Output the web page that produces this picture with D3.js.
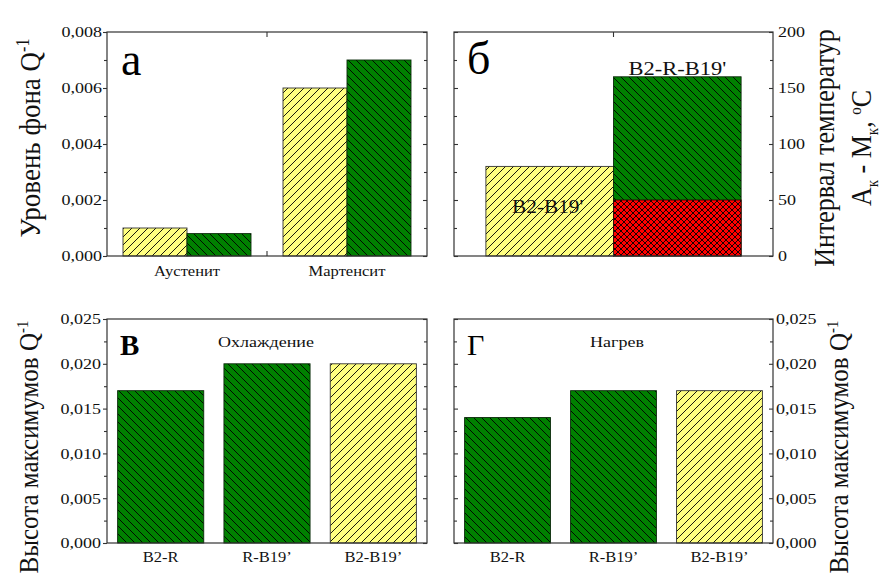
<!DOCTYPE html>
<html>
<head>
<meta charset="utf-8">
<script src="https://cdn.jsdelivr.net/npm/d3@7"></script>
</head>
<body style="margin:0;background:#fff">
<div id="chart"></div>
<script>
// panel а - background level
var phaseCats = ["Аустенит", "Мартенсит"];
var bgYellow = [0.001, 0.006];
var bgGreen = [0.0008, 0.007];
var bgTicks = [0, 0.002, 0.004, 0.006, 0.008];
var bgMinor = [0.001, 0.003, 0.005, 0.007];

// panel б - temperature interval
var rangeCats = ["B2-B19'", "B2-R-B19'"];
var rangeTotal = [80, 160];
var rangeLow = [0, 50];
var rangeTicks = [0, 50, 100, 150, 200];
var rangeMinor = [25, 75, 125, 175];

// panels в, г - peak heights
var peakCats = ["B2-R", "R-B19’", "B2-B19’"];
var peakKind = ["g", "g", "y"];
var coolPeaks = [0.017, 0.020, 0.020];
var heatPeaks = [0.014, 0.017, 0.017];
var peakTicks = [0, 0.005, 0.010, 0.015, 0.020, 0.025];
var peakMinor = [0.0025, 0.0075, 0.0125, 0.0175, 0.0225];

var width = 881, height = 582;
var K = 1.2; // picture is a bit wider than the fonts
var SERIF = "'Liberation Serif'";
var toStretch = [];

var svg = d3.select("#chart").append("svg")
    .attr("width", width)
    .attr("height", height)
    .style("font-family", SERIF);

var defs = svg.append("defs");
function hatch(id, fill, size, d) {
  var p = defs.append("pattern")
      .attr("id", id)
      .attr("patternUnits", "userSpaceOnUse")
      .attr("width", size)
      .attr("height", size);
  p.append("rect").attr("width", size).attr("height", size).attr("fill", fill);
  p.append("path").attr("d", d).attr("stroke", "#000").attr("stroke-width", 0.9);
}
hatch("hy", "#ffff80", 8, "M-2,2L2,-2M0,8L8,0M6,10L10,6");
hatch("hg", "#008000", 8, "M-2,6L2,10M0,0L8,8M6,-2L10,2");
hatch("hr", "#ff0000", 6, "M0,0L6,6M-1,5L1,7M5,-1L7,1M0,6L6,0M-1,1L1,-1M5,7L7,5");
var fills = { y: "url(#hy)", g: "url(#hg)", r: "url(#hr)" };
var strokes = { y: "#333", g: "#0a2a0a", r: "#300" };

var comma = function(f) { return function(d) { return f(d).replace(".", ","); }; };
var fmt3 = comma(d3.format(".3f"));

// widen later, once the font is in
function stretch(sel, k) {
  sel.each(function() { toStretch.push([this, k]); });
}
function applyStretch() {
  toStretch.forEach(function(p) {
    var w = p[0].getComputedTextLength();
    d3.select(p[0]).attr("textLength", w * p[1]).attr("lengthAdjust", "spacingAndGlyphs");
  });
}

function frame(x0, x1, y0, y1) {
  svg.append("rect")
      .attr("x", x0).attr("y", y0)
      .attr("width", x1 - x0).attr("height", y1 - y0)
      .attr("fill", "none")
      .attr("stroke", "#333")
      .attr("stroke-width", 1.2);
}

function styleAxis(g) {
  g.style("font-family", SERIF);
  g.select(".domain").remove();
  g.selectAll(".tick line").attr("stroke", "#333").attr("stroke-width", 1.1);
  g.selectAll(".tick text").attr("fill", "#111").attr("font-size", 15)
      .style("font-family", SERIF);
}

// y axes: labelled side + mirrored side
function yAxes(y, x0, x1, major, minor, side, outward, format, pad) {
  var lx = side === "left" ? x0 : x1, mx = side === "left" ? x1 : x0;
  var mk = side === "left" ? d3.axisLeft : d3.axisRight;
  var mm = side === "left" ? d3.axisRight : d3.axisLeft;
  var s = outward ? 1 : -1;
  var g = svg.append("g").attr("transform", "translate(" + lx + ",0)")
      .call(mk(y).tickValues(major).tickSize(4 * s).tickPadding(pad).tickFormat(format))
      .call(styleAxis);
  stretch(g.selectAll(".tick text"), K);
  svg.append("g").attr("transform", "translate(" + lx + ",0)")
      .call(mk(y).tickValues(minor).tickSize(3 * s).tickFormat(""))
      .call(styleAxis);
  svg.append("g").attr("transform", "translate(" + mx + ",0)")
      .call(mm(y).tickValues(major).tickSize(-4).tickFormat(""))
      .call(styleAxis);
  svg.append("g").attr("transform", "translate(" + mx + ",0)")
      .call(mm(y).tickValues(minor).tickSize(-3).tickFormat(""))
      .call(styleAxis);
}

function xLabels(x, y0, pad) {
  var g = svg.append("g").attr("transform", "translate(0," + y0 + ")")
      .call(d3.axisBottom(x).tickSize(0).tickPadding(pad))
      .call(styleAxis);
  g.selectAll(".tick text").attr("font-size", 14);
  stretch(g.selectAll(".tick text"), 1.18);
}

function midTick(x, y0, y1) {
  svg.append("line").attr("x1", x).attr("x2", x).attr("y1", y1).attr("y2", y1 - 5)
      .attr("stroke", "#333").attr("stroke-width", 1.1);
  svg.append("line").attr("x1", x).attr("x2", x).attr("y1", y0).attr("y2", y0 + 5)
      .attr("stroke", "#333").attr("stroke-width", 1.1);
}

function title(x, y, t, size, weight) {
  svg.append("text").attr("x", x).attr("y", y)
      .attr("font-size", size).attr("font-weight", weight || "normal")
      .style("font-family", SERIF)
      .text(t);
}

function note(x, y, t, size, k) {
  var n = svg.append("text").attr("x", x).attr("y", y)
      .attr("text-anchor", "middle").attr("font-size", size).attr("fill", "#111")
      .style("font-family", SERIF)
      .text(t);
  stretch(n, k);
}

// rotated label, parts: [text, shift(px, + is up), size]
function vlabel(x, cy, parts, size, sy) {
  var t = svg.append("text")
      .attr("transform", "translate(" + x + "," + cy + ") rotate(-90) scale(1," + sy + ")")
      .attr("text-anchor", "middle")
      .attr("font-size", size)
      .attr("fill", "#111")
      .style("font-family", SERIF);
  var prev = 0;
  parts.forEach(function(p) {
    var sh = p[1] || 0;
    t.append("tspan")
        .attr("dy", prev - sh)
        .attr("font-size", p[2] || size)
        .text(p[0]);
    prev = sh;
  });
}

function bars(data, x, y, w) {
  svg.append("g").selectAll("rect")
    .data(data)
    .enter().append("rect")
      .attr("x", function(d) { return x(d); })
      .attr("width", w)
      .attr("y", function(d) { return y(d.hi); })
      .attr("height", function(d) { return y(d.lo) - y(d.hi); })
      .attr("fill", function(d) { return fills[d.k]; })
      .attr("stroke", function(d) { return strokes[d.k]; })
      .attr("stroke-width", 0.9);
}

// ---------- panel а ----------
(function() {
  var x0 = 107, x1 = 427, y0 = 32, y1 = 256;
  var x = d3.scaleBand().domain(phaseCats).range([x0, x1]).paddingInner(0.2).paddingOuter(0.1);
  var xs = d3.scaleBand().domain(["y", "g"]).range([0, x.bandwidth()]);
  var y = d3.scaleLinear().domain([0, 0.008]).range([y1, y0]);
  var data = [];
  phaseCats.forEach(function(c, i) {
    data.push({ c: c, k: "y", lo: 0, hi: bgYellow[i] });
    data.push({ c: c, k: "g", lo: 0, hi: bgGreen[i] });
  });
  bars(data, function(d) { return x(d.c) + xs(d.k); }, y, xs.bandwidth());
  frame(x0, x1, y0, y1);
  yAxes(y, x0, x1, bgTicks, bgMinor, "left", true, fmt3, 1);
  xLabels(x, y1, 10);
  midTick((x(phaseCats[0]) + x.bandwidth() + x(phaseCats[1])) / 2, y0, y1);
  title(121, 75, "а", 46);
  vlabel(40, 138, [["Уровень фона Q"], ["-1", 10, 16]], 27, 1.12);
})();

// ---------- panel б ----------
(function() {
  var x0 = 454, x1 = 773, y0 = 32, y1 = 256;
  var x = d3.scaleBand().domain(rangeCats).range([x0, x1]).paddingInner(0).paddingOuter(0.25);
  var y = d3.scaleLinear().domain([0, 200]).range([y1, y0]);
  var data = rangeCats.map(function(c, i) {
    return { c: c, k: i === 0 ? "y" : "g", lo: 0, hi: rangeTotal[i] };
  });
  rangeCats.forEach(function(c, i) {
    if (rangeLow[i] > 0) data.push({ c: c, k: "r", lo: 0, hi: rangeLow[i] });
  });
  bars(data, function(d) { return x(d.c); }, y, x.bandwidth());
  frame(x0, x1, y0, y1);
  yAxes(y, x0, x1, rangeTicks, rangeMinor, "right", false, d3.format("d"), 5);
  midTick(x(rangeCats[1]), y0, y1);
  note(x(rangeCats[1]) + x.bandwidth() / 2, y(rangeTotal[1]) - 2, rangeCats[1], 18, 1.25);
  note(x(rangeCats[0]) + x.bandwidth() / 2 - 2, y(rangeTotal[0] / 2) + 2, rangeCats[0], 19, 1.12);
  title(467, 74, "б", 46);
  vlabel(834, 148, [["Интервал температур"]], 26, 1.1);
  vlabel(871, 148, [["A"], ["к", -6, 15], [" - M"], ["к", -6, 15], [", "], ["o", 9, 15], ["C"]], 26, 1.1);
})();

// ---------- panels в, г ----------
function peakPanel(x0, x1, vals, side, outward, pad, lab, bold, caption, capX, labX) {
  var y0 = 319, y1 = 543;
  var x = d3.scaleBand().domain(peakCats).range([x0, x1]).paddingInner(0.19).paddingOuter(0.1);
  var y = d3.scaleLinear().domain([0, 0.025]).range([y1, y0]);
  var data = peakCats.map(function(c, i) {
    return { c: c, k: peakKind[i], lo: 0, hi: vals[i] };
  });
  bars(data, function(d) { return x(d.c); }, y, x.bandwidth());
  frame(x0, x1, y0, y1);
  yAxes(y, x0, x1, peakTicks, peakMinor, side, outward, fmt3, pad);
  xLabels(x, y1, 9);
  title(x0 + 13, 355, lab, bold ? 29 : 30, bold ? "bold" : "normal");
  note(capX, 347, caption, 15, 1.2);
  vlabel(labX, 447, [["Высота максимумов Q"], ["-1", 9, 15]], 25, 1.12);
}
peakPanel(107, 427, coolPeaks, "left", true, 2, "В", true, "Охлаждение", 266, 38);
peakPanel(454, 773, heatPeaks, "right", false, 3, "Г", false, "Нагрев", 617, 848);

if (document.fonts && document.fonts.load) {
  document.fonts.load("15px 'Liberation Serif'").then(applyStretch, applyStretch);
} else {
  applyStretch();
}
</script>
</body>
</html>
